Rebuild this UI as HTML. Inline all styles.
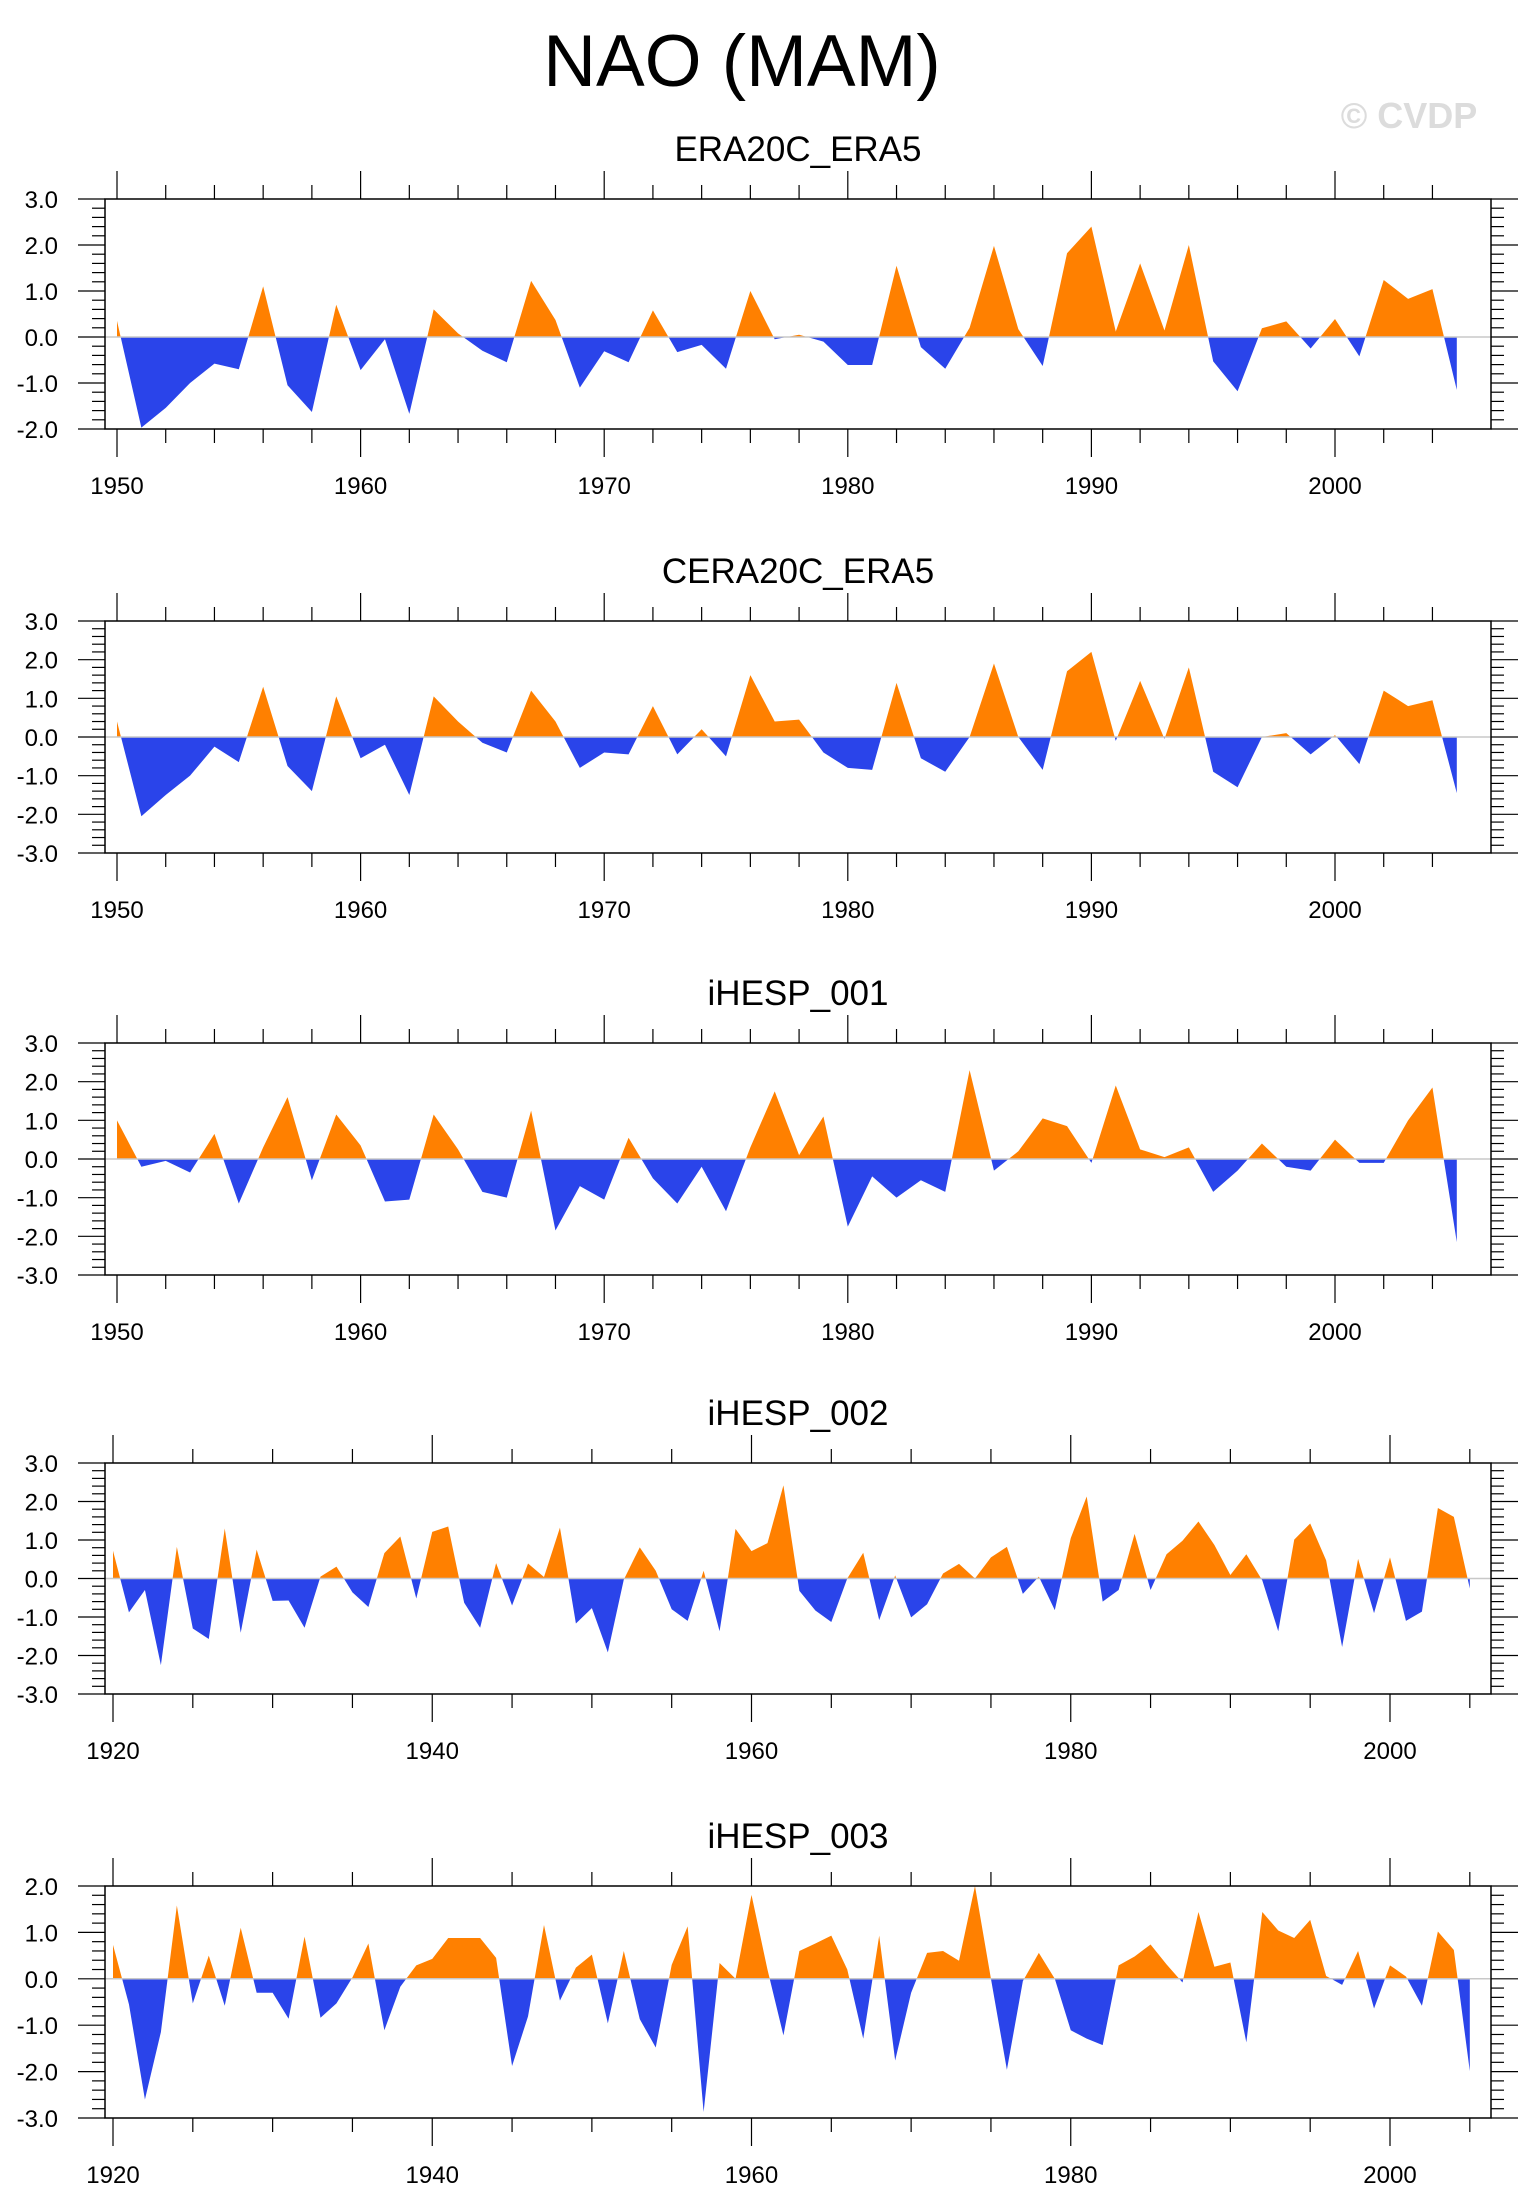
<!DOCTYPE html>
<html><head><meta charset="utf-8"><style>
html,body{margin:0;padding:0;background:#fff;}
svg{display:block;font-family:"Liberation Sans",Arial,sans-serif;}
</style></head><body>
<svg id="chart" width="1533" height="2211" viewBox="0 0 1533 2211" xmlns="http://www.w3.org/2000/svg">
<text x="742" y="86" font-size="73" text-anchor="middle" fill="#000">NAO (MAM)</text>
<text x="1409" y="128" font-size="36" font-weight="bold" text-anchor="middle" fill="#dcdcdc">© CVDP</text>
</svg>
<script>
const yearsA0 = 1950;
const yearsB0 = 1920;
const era20cValues = [0.35,-1.97,-1.54,-1.0,-0.58,-0.7,1.1,-1.05,-1.63,0.7,-0.72,-0.05,-1.67,0.6,0.08,-0.3,-0.55,1.22,0.37,-1.1,-0.31,-0.55,0.58,-0.33,-0.17,-0.69,1.0,-0.05,0.05,-0.1,-0.61,-0.61,1.55,-0.22,-0.69,0.2,1.98,0.17,-0.63,1.82,2.4,0.12,1.6,0.14,2.0,-0.53,-1.18,0.19,0.34,-0.25,0.39,-0.42,1.24,0.83,1.04,-1.15];
const cera20cValues = [0.4,-2.05,-1.5,-1.0,-0.25,-0.65,1.3,-0.75,-1.4,1.05,-0.55,-0.2,-1.5,1.05,0.4,-0.15,-0.4,1.2,0.4,-0.8,-0.4,-0.45,0.8,-0.45,0.2,-0.5,1.6,0.4,0.45,-0.4,-0.8,-0.85,1.4,-0.55,-0.9,0.0,1.9,0.0,-0.85,1.7,2.2,-0.1,1.45,-0.05,1.8,-0.9,-1.3,0.0,0.1,-0.45,0.05,-0.7,1.2,0.8,0.95,-1.45];
const ihesp001Values = [1.0,-0.2,-0.05,-0.35,0.65,-1.15,0.3,1.6,-0.55,1.15,0.35,-1.1,-1.05,1.15,0.25,-0.85,-1.0,1.25,-1.85,-0.7,-1.05,0.55,-0.5,-1.15,-0.2,-1.35,0.3,1.75,0.1,1.1,-1.75,-0.45,-1.0,-0.55,-0.85,2.3,-0.3,0.2,1.05,0.85,-0.1,1.9,0.25,0.05,0.3,-0.85,-0.3,0.4,-0.2,-0.3,0.5,-0.1,-0.1,1.0,1.85,-2.15];
const ihesp002Values = [0.72,-0.88,-0.3,-2.25,0.82,-1.3,-1.57,1.3,-1.41,0.75,-0.58,-0.57,-1.28,0.05,0.31,-0.36,-0.74,0.66,1.09,-0.52,1.21,1.35,-0.63,-1.28,0.4,-0.7,0.39,0.04,1.32,-1.17,-0.77,-1.92,-0.03,0.81,0.2,-0.8,-1.1,0.2,-1.37,1.29,0.71,0.92,2.42,-0.32,-0.83,-1.13,0.0,0.67,-1.08,0.08,-1.01,-0.67,0.13,0.38,0.0,0.55,0.82,-0.4,0.05,-0.82,1.05,2.13,-0.6,-0.3,1.16,-0.3,0.63,0.98,1.48,0.87,0.09,0.63,-0.05,-1.37,1.01,1.43,0.47,-1.78,0.51,-0.9,0.55,-1.1,-0.86,1.83,1.6,-0.26];
const ihesp003Values = [0.73,-0.55,-2.6,-1.15,1.58,-0.53,0.5,-0.58,1.1,-0.3,-0.3,-0.86,0.91,-0.84,-0.53,0.03,0.76,-1.11,-0.17,0.29,0.43,0.88,0.88,0.88,0.45,-1.88,-0.81,1.16,-0.47,0.24,0.52,-0.96,0.6,-0.87,-1.48,0.3,1.13,-2.87,0.34,0.0,1.81,0.2,-1.22,0.6,0.76,0.93,0.2,-1.29,0.93,-1.76,-0.3,0.56,0.6,0.39,2.0,0.0,-1.96,-0.05,0.56,0.0,-1.11,-1.29,-1.43,0.29,0.48,0.74,0.31,-0.08,1.44,0.26,0.35,-1.37,1.44,1.04,0.88,1.27,0.06,-0.13,0.6,-0.64,0.29,0.05,-0.58,1.02,0.62,-1.99];
const yTicks3to2 = ["3.0","2.0","1.0","0.0","-1.0","-2.0"];
const yTicks3to3 = ["3.0","2.0","1.0","0.0","-1.0","-2.0","-3.0"];
const yTicks2to3 = ["2.0","1.0","0.0","-1.0","-2.0","-3.0"];
const xLabelsA = ["1950","1960","1970","1980","1990","2000"];
const xLabelsB = ["1920","1940","1960","1980","2000"];

const NS = "http://www.w3.org/2000/svg";
const svg = document.getElementById('chart');
function mk(tag, attrs, parent){const e=document.createElementNS(NS,tag);for(const k in attrs)e.setAttribute(k,attrs[k]);(parent||svg).appendChild(e);return e;}

const panels = [
 {name:'era20c-era5', title:'ERA20C_ERA5', top:199, bot:429, vals:era20cValues, y0:yearsA0, ymax:3, ymin:-2, yt:yTicks3to2, xl:xLabelsA, x0px:117, x2000:1335, step:10, minor:2},
 {name:'cera20c-era5', title:'CERA20C_ERA5', top:621, bot:853, vals:cera20cValues, y0:yearsA0, ymax:3, ymin:-3, yt:yTicks3to3, xl:xLabelsA, x0px:117, x2000:1335, step:10, minor:2},
 {name:'ihesp-001', title:'iHESP_001', top:1043, bot:1275, vals:ihesp001Values, y0:yearsA0, ymax:3, ymin:-3, yt:yTicks3to3, xl:xLabelsA, x0px:117, x2000:1335, step:10, minor:2},
 {name:'ihesp-002', title:'iHESP_002', top:1463, bot:1694, vals:ihesp002Values, y0:yearsB0, ymax:3, ymin:-3, yt:yTicks3to3, xl:xLabelsB, x0px:113, x2000:1390, step:20, minor:5},
 {name:'ihesp-003', title:'iHESP_003', top:1886, bot:2118, vals:ihesp003Values, y0:yearsB0, ymax:2, ymin:-3, yt:yTicks2to3, xl:xLabelsB, x0px:113, x2000:1390, step:20, minor:5}
];
const L=105, R=1491, lastYear=2005;

panels.forEach((p,pi)=>{
  const g = mk('g',{});
  
  
  const firstLbl = parseInt(p.xl[0]);
  const pxPerYear = (p.x2000 - p.x0px) / (2000 - p.y0);
  const xs = yr => p.x0px + (yr - p.y0) * pxPerYear;
  const ys = v => p.top + (p.ymax - v) / (p.ymax - p.ymin) * (p.bot - p.top);
  const zeroY = ys(0);
  const t = mk('text',{x:798,y:p.top-38,'font-size':35,'text-anchor':'middle',fill:'#000'},g);
  t.textContent = p.title;
  
  
  const defs = mk('defs',{},g);
  const ca = mk('clipPath',{id:'ca'+pi},defs); mk('rect',{x:L,y:p.top,width:R-L,height:zeroY-p.top},ca);
  const cb = mk('clipPath',{id:'cb'+pi},defs); mk('rect',{x:L,y:zeroY,width:R-L,height:p.bot-zeroY},cb);
  let d = 'M'+xs(p.y0)+','+zeroY;
  p.vals.forEach((v,i)=>{ d += ' L'+xs(p.y0+i).toFixed(2)+','+ys(v).toFixed(2); });
  d += ' L'+xs(p.y0+p.vals.length-1)+','+zeroY+' Z';
  const pos = mk('path',{d:d,fill:'#ff8000','clip-path':'url(#ca'+pi+')'},g);
  
  
  const neg = mk('path',{d:d,fill:'#2a44ea','clip-path':'url(#cb'+pi+')'},g);
  
  
  mk('line',{x1:L,x2:R,y1:zeroY,y2:zeroY,stroke:'#c8c8c8','stroke-width':1.5},g);
  const fr = mk('rect',{x:L,y:p.top,width:R-L,height:p.bot-p.top,fill:'none',stroke:'#000','stroke-width':1.5},g);
  
  
  for(let yr=p.y0; yr<=lastYear; yr+=p.minor){
    const major = ((yr-firstLbl)%p.step===0);
    const len = major?28:14, x=xs(yr);
    mk('line',{x1:x,x2:x,y1:p.top,y2:p.top-len,stroke:'#000','stroke-width':1.2},g);
    mk('line',{x1:x,x2:x,y1:p.bot,y2:p.bot+len,stroke:'#000','stroke-width':1.2},g);
  }
  p.xl.forEach(lbl=>{
    const tx = mk('text',{x:xs(parseInt(lbl)),y:p.bot+65,'font-size':24,'text-anchor':'middle',fill:'#000'},g);
    tx.textContent = lbl;
    
    
  });
  for(let k=0; k<=Math.round((p.ymax-p.ymin)*5); k++){
    const v = p.ymax - k*0.2, y = ys(v), major = (k%5===0);
    const len = major?27:13;
    mk('line',{x1:L,x2:L-len,y1:y,y2:y,stroke:'#000','stroke-width':1.2},g);
    mk('line',{x1:R,x2:R+len,y1:y,y2:y,stroke:'#000','stroke-width':1.2},g);
  }
  p.yt.forEach(lbl=>{
    const ty = mk('text',{x:58,y:ys(parseFloat(lbl))+9,'font-size':24,'text-anchor':'end',fill:'#000'},g);
    ty.textContent = lbl;
    
    
  });
});
</script>
</body></html>
